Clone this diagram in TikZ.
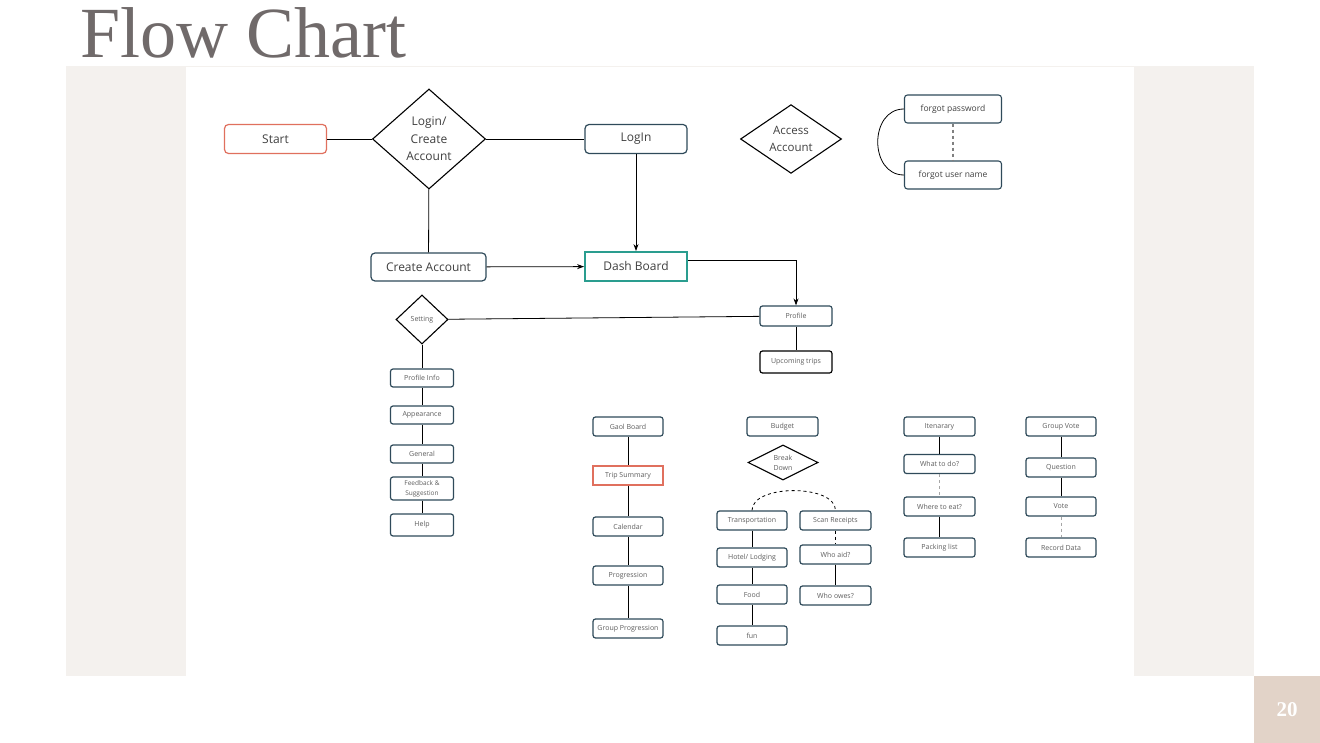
\documentclass[tikz,border=0pt]{standalone}
\usepackage{fontspec}
\setmainfont{Open Sans}
\newfontfamily\titlefont{Liberation Serif}
\usetikzlibrary{shapes.geometric,arrows.meta}
\definecolor{edge}{HTML}{2F4A5A}
\definecolor{txt}{HTML}{5E5E5E}
\definecolor{salmon}{HTML}{E0705E}
\definecolor{teal}{HTML}{2A9D8F}
\definecolor{panel}{HTML}{F4F1EE}
\definecolor{tag}{HTML}{E2D3C8}
\definecolor{head}{HTML}{706A6A}
\tikzset{
  big/.style={draw=edge,rounded corners=4pt,line width=1.2pt,minimum width=102pt,minimum height=29pt,font=\fontsize{12}{14}\selectfont,text=black!75},
  mid/.style={draw=edge,rounded corners=3pt,line width=1.1pt,minimum width=97pt,minimum height=28pt,font=\fontsize{8.5}{10}\selectfont,text=black!75},
  small/.style={draw=edge,rounded corners=2.5pt,line width=1.2pt,minimum width=70pt,minimum height=19pt,inner sep=1pt,font=\fontsize{7}{8}\selectfont,text=txt,align=center},
  choice/.style={draw=black,diamond,line width=1.1pt,inner sep=0pt,align=center,text=black!75},
  faint/.style={draw=black!35,dashed}
}
\begin{document}
\begin{tikzpicture}[>={Stealth[length=7pt,width=5pt]},x=1pt,y=-1pt,line width=0.8pt]
\useasboundingbox (0,0) rectangle (1320,743);
% page background
\fill[panel] (66,66) rectangle (1254,676);
\fill[white] (186,67) rectangle (1134,676);
\fill[tag] (1254,676) rectangle (1320,743);
\node[anchor=base west,inner sep=0pt,text=head,font=\titlefont\fontsize{72}{80}\selectfont] (title) at (80,58) {Flow Chart};
\node[text=white,font=\titlefont\bfseries\fontsize{21}{24}\selectfont] (pagenum) at (1287,710) {20};
% top part
\node[big,draw=salmon] (start) at (275.5,139) {Start};
\node[choice,minimum width=113pt,minimum height=100pt,font=\fontsize{12}{17.5}\selectfont] (logcreate) at (429,139) {Login/\\Create\\Account};
\node[big] (login) at (636,139) {LogIn};
\node[choice,minimum width=101pt,minimum height=66pt,font=\fontsize{11.5}{17}\selectfont] (access) at (791,139) {Access\\Account};
\node[mid] (forgotpw) at (953,109) {forgot password};
\node[mid] (forgotun) at (953,175) {forgot user name};
\node[big,minimum width=115pt,minimum height=28pt] (create) at (428.5,267) {Create Account};
\node[big,draw=teal,rounded corners=0pt,line width=1.8pt] (dash) at (636,266.5) {Dash Board};
\draw (start) -- (logcreate);
\draw (logcreate) -- (login);
\draw (logcreate) -- (create);
\draw[->] (login) -- (dash);
\draw[->] (create) -- (dash);
\draw[faint,black!50,line width=1.2pt] (forgotpw) -- (forgotun);
\draw (forgotpw.west) .. controls (869,109) and (869,175) .. (forgotun.west);
% profile and settings
\node[small,minimum width=72pt,minimum height=20pt] (profile) at (796,316) {Profile};
\node[small,draw=black,minimum width=72pt,minimum height=22pt] (upcoming) at (796,362) {Upcoming trips};
\node[choice,minimum width=52pt,minimum height=49pt,font=\fontsize{7}{8}\selectfont,text=txt] (setting) at (422,319.5) {Setting};
\draw[->] ([yshift=6pt]dash.east) -| (profile.north);
\draw (setting) -- (profile);
\draw (profile) -- (upcoming);
\node[small,minimum width=63pt,minimum height=18pt] (profinfo) at (422,378) {Profile Info};
\node[small,minimum width=63pt,minimum height=18pt] (appear) at (422,415) {Appearance};
\node[small,minimum width=63pt,minimum height=18pt] (general) at (422,454) {General};
\node[small,minimum width=63pt,minimum height=23pt,font=\fontsize{6.5}{10}\selectfont] (feedback) at (422,488.5) {Feedback \&\\Suggestion};
\node[small,minimum width=63pt,minimum height=22pt] (help) at (422,525) {Help};
\draw (setting) -- (profinfo) -- (appear) -- (general) -- (feedback) -- (help);
% goal board
\node[small] (goal) at (628,426.5) {Gaol Board};
\node[small,draw=salmon,rounded corners=0pt] (tripsum) at (628,475.5) {Trip Summary};
\node[small] (calendar) at (628,526.5) {Calendar};
\node[small] (progress) at (628,575.5) {Progression};
\node[small] (grpprog) at (628,628.5) {Group Progression};
\draw (goal) -- (tripsum) -- (calendar) -- (progress) -- (grpprog);
% budget
\node[small,minimum width=71pt] (budget) at (782.5,426.5) {Budget};
\node[choice,minimum width=70pt,minimum height=35pt,font=\fontsize{7}{10}\selectfont,text=txt] (breakdown) at (783,462.5) {Break\\Down};
\node[small] (transport) at (752,520.5) {Transportation};
\node[small,minimum width=71pt] (scan) at (835.5,520.5) {Scan Receipts};
\node[small] (hotel) at (752,557.5) {Hotel/ Lodging};
\node[small] (food) at (752,594.5) {Food};
\node[small] (fun) at (752,635.5) {fun};
\node[small,minimum width=71pt] (whoaid) at (835.5,554.5) {Who aid?};
\node[small,minimum width=71pt] (whoowes) at (835.5,595.5) {Who owes?};
\draw[dashed] (transport.north) .. controls (752,484) and (835.5,484) .. (scan.north);
\draw (transport) -- (hotel) -- (food) -- (fun);
\draw[dashed] (scan) -- (whoaid);
\draw (whoaid) -- (whoowes);
% itenarary
\node[small,minimum width=71pt] (iten) at (939.5,426.5) {Itenarary};
\node[small,minimum width=71pt] (whatdo) at (939.5,464) {What to do?};
\node[small,minimum width=71pt] (whereeat) at (939.5,506.5) {Where to eat?};
\node[small,minimum width=71pt] (packing) at (939.5,547.5) {Packing list};
\draw (iten) -- (whatdo);
\draw[faint] (whatdo) -- (whereeat);
\draw (whereeat) -- (packing);
% group vote
\node[small] (grpvote) at (1061,426.5) {Group Vote};
\node[small] (question) at (1061,467.5) {Question};
\node[small] (vote) at (1061,506.5) {Vote};
\node[small] (record) at (1061,547.5) {Record Data};
\draw (grpvote) -- (question) -- (vote);
\draw[faint] (vote) -- (record);
\end{tikzpicture}
\end{document}
